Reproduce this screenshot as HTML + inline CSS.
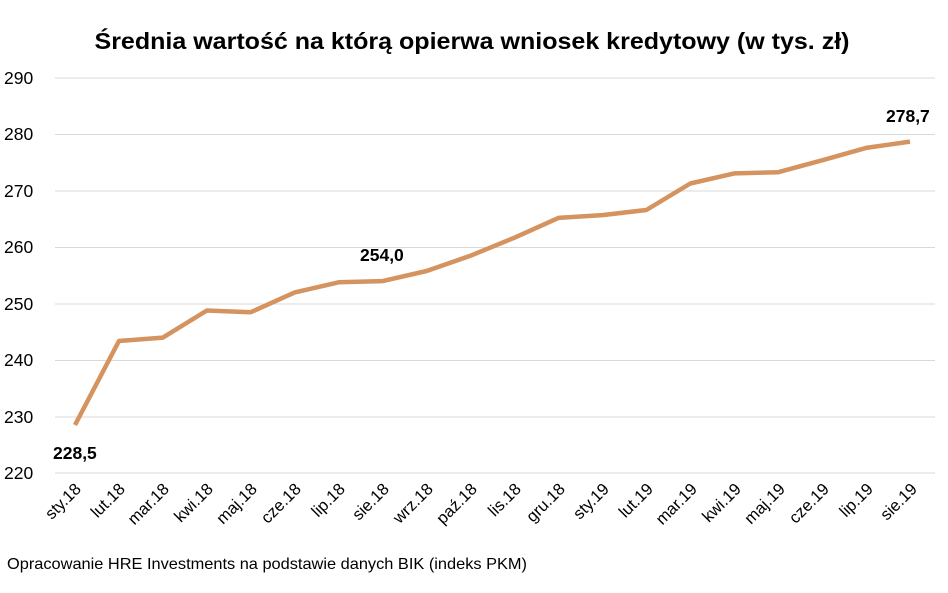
<!DOCTYPE html>
<html><head><meta charset="utf-8"><style>
body{margin:0;background:#fff;}
svg{display:block;font-family:"Liberation Sans",sans-serif;}
</style></head><body>
<svg width="948" height="593" xmlns="http://www.w3.org/2000/svg">
<text x="472" y="49" text-anchor="middle" font-size="23" font-weight="bold" fill="#000" textLength="755" lengthAdjust="spacingAndGlyphs">Średnia wartość na którą opierwa wniosek kredytowy (w tys. zł)</text>
<g stroke="#d9d9d9" stroke-width="1">
<line x1="55" x2="935" y1="78" y2="78"/><line x1="55" x2="935" y1="134.5" y2="134.5"/>
<line x1="55" x2="935" y1="191" y2="191"/><line x1="55" x2="935" y1="247.5" y2="247.5"/>
<line x1="55" x2="935" y1="304" y2="304"/><line x1="55" x2="935" y1="360.5" y2="360.5"/>
<line x1="55" x2="935" y1="417" y2="417"/><line x1="55" x2="935" y1="473" y2="473"/>
</g>
<g font-size="17.5" fill="#000">
<text x="4" y="84">290</text><text x="4" y="140">280</text><text x="4" y="197">270</text>
<text x="4" y="253">260</text><text x="4" y="310">250</text><text x="4" y="366">240</text>
<text x="4" y="423">230</text><text x="4" y="479">220</text>
</g>
<polyline fill="none" stroke="#d4935f" stroke-width="4.5" stroke-linejoin="round" points="75,425 118.95,341 162.9,337.6 206.85,310.5 250.8,312.2 294.75,292.4 338.7,282.3 382.65,281.1 426.6,271 470.55,255.7 514.5,237.7 558.45,217.9 602.4,215.1 646.35,210 690.3,183.5 734.25,173.4 778.2,172.2 822.15,160.3 866.1,147.9 910,141.6"/>
<g font-size="17.5" font-weight="bold" fill="#000">
<text x="53" y="459">228,5</text><text x="360" y="261">254,0</text><text x="886" y="122">278,7</text>
</g>
<g font-size="16.5" fill="#000" text-anchor="end">
<text transform="translate(82,490) rotate(-45)">sty.18</text>
<text transform="translate(126,490) rotate(-45)">lut.18</text>
<text transform="translate(170,490) rotate(-45)">mar.18</text>
<text transform="translate(214,490) rotate(-45)">kwi.18</text>
<text transform="translate(258,490) rotate(-45)">maj.18</text>
<text transform="translate(302,490) rotate(-45)">cze.18</text>
<text transform="translate(346,490) rotate(-45)">lip.18</text>
<text transform="translate(390,490) rotate(-45)">sie.18</text>
<text transform="translate(434,490) rotate(-45)">wrz.18</text>
<text transform="translate(478,490) rotate(-45)">paź.18</text>
<text transform="translate(522,490) rotate(-45)">lis.18</text>
<text transform="translate(566,490) rotate(-45)">gru.18</text>
<text transform="translate(610,490) rotate(-45)">sty.19</text>
<text transform="translate(654,490) rotate(-45)">lut.19</text>
<text transform="translate(698,490) rotate(-45)">mar.19</text>
<text transform="translate(742,490) rotate(-45)">kwi.19</text>
<text transform="translate(786,490) rotate(-45)">maj.19</text>
<text transform="translate(830,490) rotate(-45)">cze.19</text>
<text transform="translate(874,490) rotate(-45)">lip.19</text>
<text transform="translate(918,490) rotate(-45)">sie.19</text>
</g>
<text x="7" y="569" font-size="16" fill="#000" textLength="520" lengthAdjust="spacingAndGlyphs">Opracowanie HRE Investments na podstawie danych BIK (indeks PKM)</text>
</svg>
</body></html>
